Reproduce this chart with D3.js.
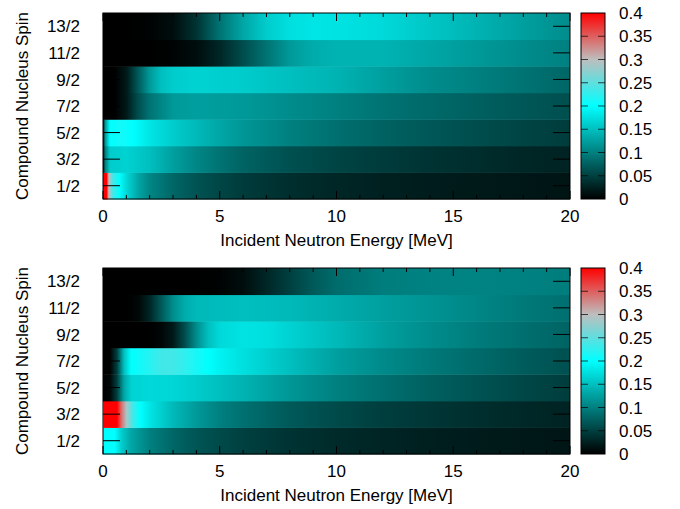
<!DOCTYPE html>
<html>
<head>
<meta charset="utf-8">
<script src="https://cdn.jsdelivr.net/npm/d3@7"></script>
<style>
    body { margin: 0; background: #fff; }
    svg text { font-family: "Liberation Sans", Arial, Helvetica, sans-serif; font-size: 17px; fill: #000; }
</style>
</head>
<body>
<svg id="chart" width="680" height="509"></svg>
<script>
// spin rows, bottom to top
const spinLabels = ['1/2', '3/2', '5/2', '7/2', '9/2', '11/2', '13/2'];
const xTickLabels = [0, 5, 10, 15, 20];
const cbTicks = [0, 0.05, 0.1, 0.15, 0.2, 0.25, 0.3, 0.35, 0.4];
const cbLabels = ['0', '0.05', '0.1', '0.15', '0.2', '0.25', '0.3', '0.35', '0.4'];
const paletteStops = [0, 0.2, 0.3, 0.4];
const paletteColors = ['#000000', '#00ffff', '#bebebe', '#ff0000'];

// upper panel: [energy MeV, value]
const upperJ1 = [[0, 0.4], [0.15, 0.4], [0.25, 0.3], [0.4, 0.24], [0.7, 0.2], [1, 0.17], [1.5, 0.13], [2, 0.105], [3, 0.08], [4, 0.065], [5, 0.055], [6, 0.046], [8, 0.036], [10, 0.03], [12, 0.025], [14, 0.022], [16, 0.02], [18, 0.018], [20, 0.016]];
const upperJ3 = [[0, 0.01], [0.1, 0.1], [0.3, 0.16], [1, 0.165], [2, 0.15], [3, 0.125], [4, 0.105], [5, 0.09], [6, 0.078], [8, 0.063], [10, 0.053], [12, 0.046], [14, 0.04], [16, 0.035], [18, 0.03], [20, 0.027]];
const upperJ5 = [[0, 0.01], [0.1, 0.12], [0.3, 0.2], [0.8, 0.21], [1.3, 0.2], [2, 0.18], [3, 0.16], [4, 0.145], [5, 0.13], [6, 0.118], [8, 0.1], [10, 0.087], [12, 0.077], [14, 0.068], [16, 0.06], [18, 0.053], [20, 0.047]];
const upperJ7 = [[0, 0], [0.5, 0], [1, 0.02], [1.5, 0.06], [2, 0.09], [3, 0.12], [4, 0.125], [6, 0.12], [8, 0.11], [10, 0.1], [12, 0.09], [14, 0.082], [16, 0.075], [18, 0.068], [20, 0.062]];
const upperJ9 = [[0, 0], [0.5, 0], [1, 0.02], [1.5, 0.07], [2, 0.12], [2.5, 0.15], [3, 0.16], [4, 0.165], [6, 0.16], [8, 0.15], [10, 0.14], [12, 0.125], [14, 0.11], [16, 0.1], [18, 0.09], [20, 0.08]];
const upperJ11 = [[0, 0], [2, 0], [3, 0.002], [4, 0.01], [5, 0.03], [6, 0.06], [7, 0.09], [8, 0.12], [9, 0.135], [10, 0.14], [12, 0.14], [14, 0.13], [16, 0.12], [18, 0.11], [20, 0.1]];
const upperJ13 = [[0, 0], [1, 0], [2, 0.002], [3, 0.01], [4, 0.04], [5, 0.09], [6, 0.13], [7, 0.16], [8, 0.175], [9, 0.18], [10, 0.178], [12, 0.17], [14, 0.155], [16, 0.14], [18, 0.125], [20, 0.11]];

// lower panel
const lowerJ1 = [[0, 0.2], [0.5, 0.2], [0.8, 0.16], [1.2, 0.13], [2, 0.1], [3, 0.08], [4, 0.067], [5, 0.058], [6, 0.05], [8, 0.04], [10, 0.033], [12, 0.028], [14, 0.024], [16, 0.021], [18, 0.019], [20, 0.017]];
const lowerJ3 = [[0, 0.2], [0.05, 0.4], [0.6, 0.4], [0.8, 0.34], [1, 0.29], [1.3, 0.23], [1.6, 0.2], [2, 0.18], [3, 0.145], [4, 0.12], [5, 0.1], [6, 0.088], [8, 0.07], [10, 0.058], [12, 0.049], [14, 0.042], [16, 0.036], [18, 0.031], [20, 0.027]];
const lowerJ5 = [[0, 0], [0.3, 0.005], [0.6, 0.05], [0.9, 0.13], [1.2, 0.165], [2, 0.17], [3, 0.168], [4, 0.16], [5, 0.15], [6, 0.14], [8, 0.118], [10, 0.1], [12, 0.087], [14, 0.075], [16, 0.065], [18, 0.056], [20, 0.048]];
const lowerJ7 = [[0, 0], [0.3, 0], [0.6, 0.05], [0.9, 0.15], [1.2, 0.2], [2, 0.22], [2.5, 0.235], [3, 0.235], [3.5, 0.225], [4.5, 0.2], [5, 0.19], [6, 0.175], [8, 0.15], [10, 0.125], [12, 0.108], [14, 0.095], [16, 0.083], [18, 0.072], [20, 0.063]];
const lowerJ9 = [[0, 0], [2, 0], [2.5, 0.005], [3, 0.02], [3.5, 0.06], [4, 0.11], [4.5, 0.15], [5, 0.17], [6, 0.178], [7, 0.175], [8, 0.165], [10, 0.145], [12, 0.125], [14, 0.11], [16, 0.097], [18, 0.087], [20, 0.078]];
const lowerJ11 = [[0, 0], [1, 0], [1.5, 0.005], [2, 0.03], [2.5, 0.07], [3, 0.11], [3.5, 0.135], [4, 0.145], [6, 0.15], [8, 0.145], [10, 0.135], [12, 0.125], [14, 0.115], [16, 0.105], [18, 0.095], [20, 0.087]];
const lowerJ13 = [[0, 0], [4, 0], [5, 0.002], [6, 0.01], [7, 0.03], [8, 0.05], [9, 0.07], [10, 0.085], [12, 0.098], [14, 0.102], [16, 0.103], [18, 0.101], [20, 0.098]];

const upperRows = [upperJ1, upperJ3, upperJ5, upperJ7, upperJ9, upperJ11, upperJ13];
const lowerRows = [lowerJ1, lowerJ3, lowerJ5, lowerJ7, lowerJ9, lowerJ11, lowerJ13];

const svg = d3.select('#chart');
const defs = svg.append('defs');

const left = 103;
const right = 570;
const cbLeft = 581;
const cbWidth = 24;

const x = d3.scaleLinear().domain([0, 20]).range([left, right]);
const color = d3.scaleLinear().domain(paletteStops).range(paletteColors);

function drawPanel(id, rows, top, bottom) {
    const g = svg.append('g').attr('class', 'panel-' + id);
    const y = d3.scaleBand().domain(spinLabels).range([bottom, top]);
    const cb = d3.scaleLinear().domain([0, 0.4]).range([bottom, top]);

    // heat rows, one gradient per spin
    rows.forEach((row, i) => {
        const gid = `grad-${ id }-${ i }`;
        const grad = defs.append('linearGradient')
            .attr('id', gid)
            .attr('gradientUnits', 'userSpaceOnUse')
            .attr('x1', x(0)).attr('x2', x(20))
            .attr('y1', 0).attr('y2', 0);
        grad.selectAll('stop')
            .data(row)
            .enter()
            .append('stop')
            .attr('offset', (d) => (x(d[0]) - x(0)) / (x(20) - x(0)))
            .attr('stop-color', (d) => color(d[1]));

        g.append('rect')
            .attr('x', x(0))
            .attr('y', y(spinLabels[i]))
            .attr('width', x(20) - x(0))
            .attr('height', y.bandwidth() + 0.5)
            .attr('fill', `url(#${ gid })`);
    });

    // x ticks, top and bottom, inward
    const xt = x.ticks(20);
    g.selectAll('.xtick-b')
        .data(xt)
        .enter()
        .append('line')
        .attr('x1', (d) => x(d)).attr('x2', (d) => x(d))
        .attr('y1', bottom)
        .attr('y2', (d) => bottom - (d % 5 === 0 ? 8 : 4))
        .attr('stroke', '#000');
    g.selectAll('.xtick-t')
        .data(xt)
        .enter()
        .append('line')
        .attr('x1', (d) => x(d)).attr('x2', (d) => x(d))
        .attr('y1', top)
        .attr('y2', (d) => top + (d % 5 === 0 ? 8 : 4))
        .attr('stroke', '#000');

    // y ticks at row centres
    spinLabels.forEach((s) => {
        const cy = y(s) + y.bandwidth() / 2;
        g.append('line').attr('x1', left).attr('x2', left + 17)
            .attr('y1', cy).attr('y2', cy).attr('stroke', '#000');
        g.append('line').attr('x1', right - 17).attr('x2', right)
            .attr('y1', cy).attr('y2', cy).attr('stroke', '#000');
        g.append('text')
            .attr('x', 80)
            .attr('y', cy)
            .attr('dy', '0.36em')
            .attr('text-anchor', 'end')
            .text(s);
    });

    g.append('rect')
        .attr('x', left).attr('y', top)
        .attr('width', right - left).attr('height', bottom - top)
        .attr('fill', 'none').attr('stroke', '#000');

    g.selectAll('.xlabel')
        .data(xTickLabels)
        .enter()
        .append('text')
        .attr('x', (d) => x(d))
        .attr('y', bottom + 23)
        .attr('text-anchor', 'middle')
        .text((d) => d);

    g.append('text')
        .attr('x', (left + right) / 2)
        .attr('y', bottom + 47)
        .attr('text-anchor', 'middle')
        .text('Incident Neutron Energy [MeV]');

    g.append('text')
        .attr('transform', `translate(28, ${ (top + bottom) / 2 }) rotate(-90)`)
        .attr('text-anchor', 'middle')
        .text('Compound Nucleus Spin');

    // colour box
    const cgid = 'cbgrad-' + id;
    const cgrad = defs.append('linearGradient')
        .attr('id', cgid)
        .attr('gradientUnits', 'userSpaceOnUse')
        .attr('x1', 0).attr('x2', 0)
        .attr('y1', cb(0)).attr('y2', cb(0.4));
    cgrad.selectAll('stop')
        .data(paletteStops)
        .enter()
        .append('stop')
        .attr('offset', (d) => d / 0.4)
        .attr('stop-color', (d) => color(d));

    g.append('rect')
        .attr('x', cbLeft).attr('y', top)
        .attr('width', cbWidth).attr('height', bottom - top)
        .attr('fill', `url(#${ cgid })`)
        .attr('stroke', '#000');

    cbTicks.forEach((t, i) => {
        const ty = cb(t);
        if (i > 0 && i < cbTicks.length - 1) {
            g.append('line').attr('x1', cbLeft).attr('x2', cbLeft + 7)
                .attr('y1', ty).attr('y2', ty).attr('stroke', '#000').attr('stroke-opacity', 0.7);
            g.append('line').attr('x1', cbLeft + cbWidth - 7).attr('x2', cbLeft + cbWidth)
                .attr('y1', ty).attr('y2', ty).attr('stroke', '#000').attr('stroke-opacity', 0.7);
        }
        g.append('text')
            .attr('x', 619)
            .attr('y', ty)
            .attr('dy', '0.36em')
            .text(cbLabels[i]);
    });
}

drawPanel('upper', upperRows, 13, 199);
drawPanel('lower', lowerRows, 268, 454);
</script>
</body>
</html>
